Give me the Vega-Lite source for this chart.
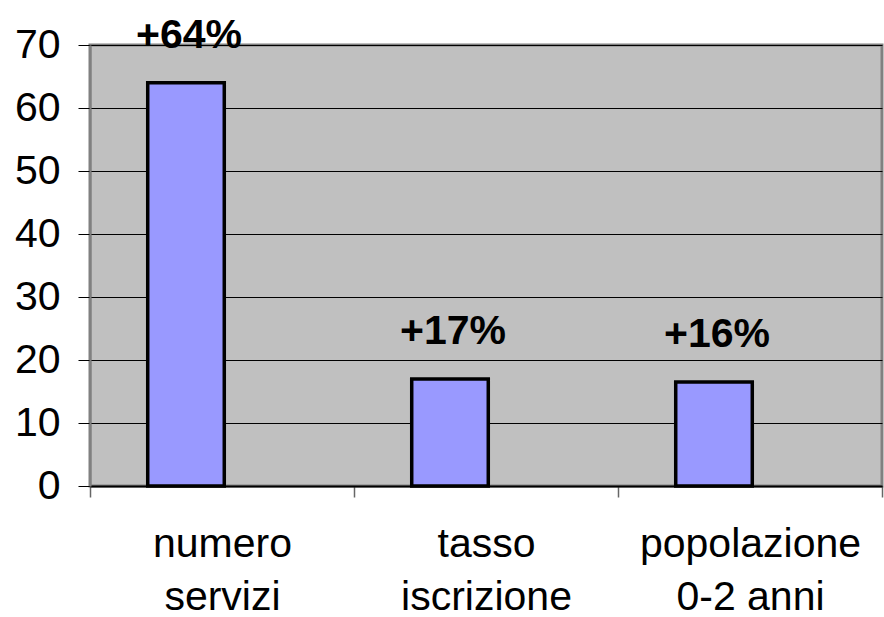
{
  "$schema": "https://vega.github.io/schema/vega-lite/v6.json",
  "autosize": {"type": "none"},
  "padding": {"left": 90, "top": 45, "right": 2, "bottom": 131},
  "width": 792,
  "height": 441,
  "background": "white",
  "config": {
    "font": "Liberation Sans",
    "view": {"fill": "#C0C0C0", "stroke": "#808080", "strokeWidth": 3}
  },
  "data": {
    "values": [
      {"categoria": "numero servizi", "valore": 64, "etichetta": "+64%"},
      {"categoria": "tasso iscrizione", "valore": 17, "etichetta": "+17%"},
      {"categoria": "popolazione 0-2 anni", "valore": 16.5, "etichetta": "+16%"}
    ]
  },
  "encoding": {
    "x": {
      "field": "categoria",
      "type": "nominal",
      "sort": null,
      "scale": {"paddingInner": 0, "paddingOuter": 0},
      "axis": {
        "title": null,
        "labelAngle": 0,
        "labelExpr": "datum.value == 'numero servizi' ? ['numero', 'servizi'] : datum.value == 'tasso iscrizione' ? ['tasso', 'iscrizione'] : datum.value == 'popolazione 0-2 anni' ? ['popolazione', '0-2 anni'] : ''",
        "labelFontSize": 41,
        "labelLimit": 400,
        "labelColor": "black",
        "labelLineHeight": 53,
        "labelPadding": 27,
        "tickBand": "extent",
        "tickSize": 11,
        "tickColor": "#666666",
        "tickWidth": 1.5,
        "domainColor": "#000000",
        "domainWidth": 2,
        "grid": false
      }
    },
    "y": {
      "field": "valore",
      "type": "quantitative",
      "scale": {"domain": [0, 70], "nice": false},
      "axis": {
        "title": null,
        "values": [0, 10, 20, 30, 40, 50, 60, 70],
        "labelFontSize": 41,
        "labelColor": "black",
        "labelPadding": 18,
        "tickSize": 12,
        "tickColor": "#000000",
        "tickWidth": 1,
        "domainColor": "#808080",
        "domainWidth": 2,
        "grid": true,
        "gridColor": "#000000",
        "gridWidth": 1,
        "gridOpacity": 1
      }
    }
  },
  "layer": [
    {
      "mark": {
        "type": "bar",
        "fill": "#9999FF",
        "stroke": "#000000",
        "strokeWidth": 3.5,
        "width": {"band": 0.29},
        "xOffset": -36
      }
    },
    {
      "mark": {
        "type": "text",
        "fontSize": 41,
        "fontWeight": "bold",
        "color": "#000000",
        "baseline": "alphabetic",
        "dy": -35,
        "xOffset": -33
      },
      "encoding": {"text": {"field": "etichetta"}}
    }
  ]
}
